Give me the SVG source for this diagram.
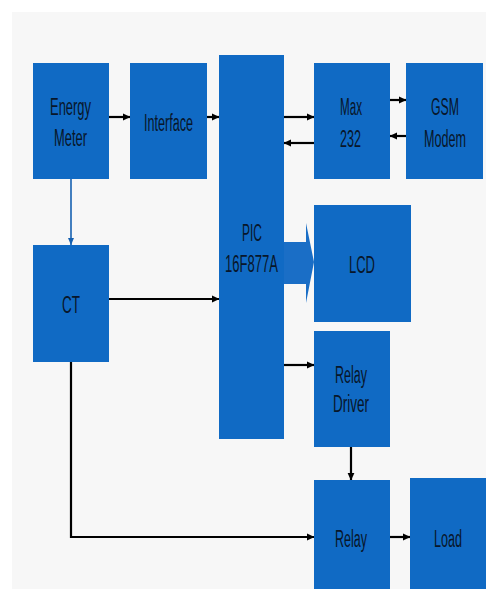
<svg xmlns="http://www.w3.org/2000/svg" width="486" height="589" viewBox="0 0 486 589">
<defs>
<marker id="ah" markerWidth="8" markerHeight="8" refX="7" refY="4" orient="auto" markerUnits="userSpaceOnUse"><path d="M0,0.6 L7.5,4 L0,7.4 Z" fill="#000"/></marker>
<marker id="ahb" markerWidth="8" markerHeight="9" refX="7" refY="3" orient="auto" markerUnits="userSpaceOnUse"><path d="M0,0 L7,3 L0,6 Z" fill="#1560b0"/></marker>
</defs>
<style>
.box{fill:#106ac4;}
.t{font-family:"Liberation Sans",Arial,sans-serif;font-size:23px;fill:#08162a;text-anchor:middle;}
.c{stroke:#000;stroke-width:2.2;fill:none;}
</style>
<rect x="0" y="0" width="486" height="589" fill="#fff"/>
<rect x="12" y="12" width="474" height="577" fill="#f7f7f7"/>
<g id="connectors">
<line class="c" x1="109" y1="117" x2="130" y2="117" marker-end="url(#ah)"/>
<line class="c" x1="207" y1="117" x2="219" y2="117" marker-end="url(#ah)"/>
<line class="c" x1="284" y1="117" x2="314" y2="117" marker-end="url(#ah)"/>
<line class="c" x1="314" y1="143" x2="284" y2="143" marker-end="url(#ah)"/>
<line class="c" x1="390" y1="100" x2="406" y2="100" marker-end="url(#ah)"/>
<line class="c" x1="406" y1="136" x2="390" y2="136" marker-end="url(#ah)"/>
<line x1="71" y1="179" x2="71" y2="245" stroke="#1560b0" stroke-width="1.6" marker-end="url(#ahb)"/>
<line class="c" x1="109" y1="299" x2="219" y2="299" marker-end="url(#ah)"/>
<polygon points="284,242 306,242 306,223 314,262 306,303 306,284 284,284" fill="#1a6ec6"/>
<line class="c" x1="284" y1="365" x2="314" y2="365" marker-end="url(#ah)"/>
<line class="c" x1="351" y1="447" x2="351" y2="480" marker-end="url(#ah)"/>
<polyline class="c" points="71,362 71,537 314,537" marker-end="url(#ah)"/>
<line class="c" x1="390" y1="537" x2="410" y2="537" marker-end="url(#ah)"/>
</g>
<g id="energy-meter"><rect class="box" x="33" y="63" width="76" height="116"/><text class="t" x="70.5" y="115" textLength="41" lengthAdjust="spacingAndGlyphs">Energy</text><text class="t" x="70.5" y="146" textLength="33" lengthAdjust="spacingAndGlyphs">Meter</text></g>
<g id="interface"><rect class="box" x="130" y="63" width="77" height="116"/><text class="t" x="168.5" y="131" textLength="49" lengthAdjust="spacingAndGlyphs">Interface</text></g>
<g id="pic"><rect class="box" x="219" y="55" width="65" height="384"/><text class="t" x="252" y="241" textLength="20" lengthAdjust="spacingAndGlyphs">PIC</text><text class="t" x="251.5" y="272" textLength="53" lengthAdjust="spacingAndGlyphs">16F877A</text></g>
<g id="max232"><rect class="box" x="314" y="63" width="76" height="116"/><text class="t" x="351" y="115" textLength="22" lengthAdjust="spacingAndGlyphs">Max</text><text class="t" x="350.5" y="147" textLength="21" lengthAdjust="spacingAndGlyphs">232</text></g>
<g id="gsm"><rect class="box" x="406" y="63" width="77" height="116"/><text class="t" x="445" y="115" textLength="28" lengthAdjust="spacingAndGlyphs">GSM</text><text class="t" x="445" y="147" textLength="42" lengthAdjust="spacingAndGlyphs">Modem</text></g>
<g id="ct"><rect class="box" x="33" y="245" width="76" height="117"/><text class="t" x="71" y="313" textLength="18" lengthAdjust="spacingAndGlyphs">CT</text></g>
<g id="lcd"><rect class="box" x="314" y="205" width="97" height="117"/><text class="t" x="362" y="273" textLength="26" lengthAdjust="spacingAndGlyphs">LCD</text></g>
<g id="relay-driver"><rect class="box" x="314" y="331" width="76" height="116"/><text class="t" x="351" y="383" textLength="32" lengthAdjust="spacingAndGlyphs">Relay</text><text class="t" x="351" y="412" textLength="36" lengthAdjust="spacingAndGlyphs">Driver</text></g>
<g id="relay"><rect class="box" x="314" y="480" width="76" height="120"/><text class="t" x="351" y="547" textLength="32" lengthAdjust="spacingAndGlyphs">Relay</text></g>
<g id="load"><rect class="box" x="410" y="478" width="80" height="122"/><text class="t" x="448" y="547" textLength="28" lengthAdjust="spacingAndGlyphs">Load</text></g>
</svg>
